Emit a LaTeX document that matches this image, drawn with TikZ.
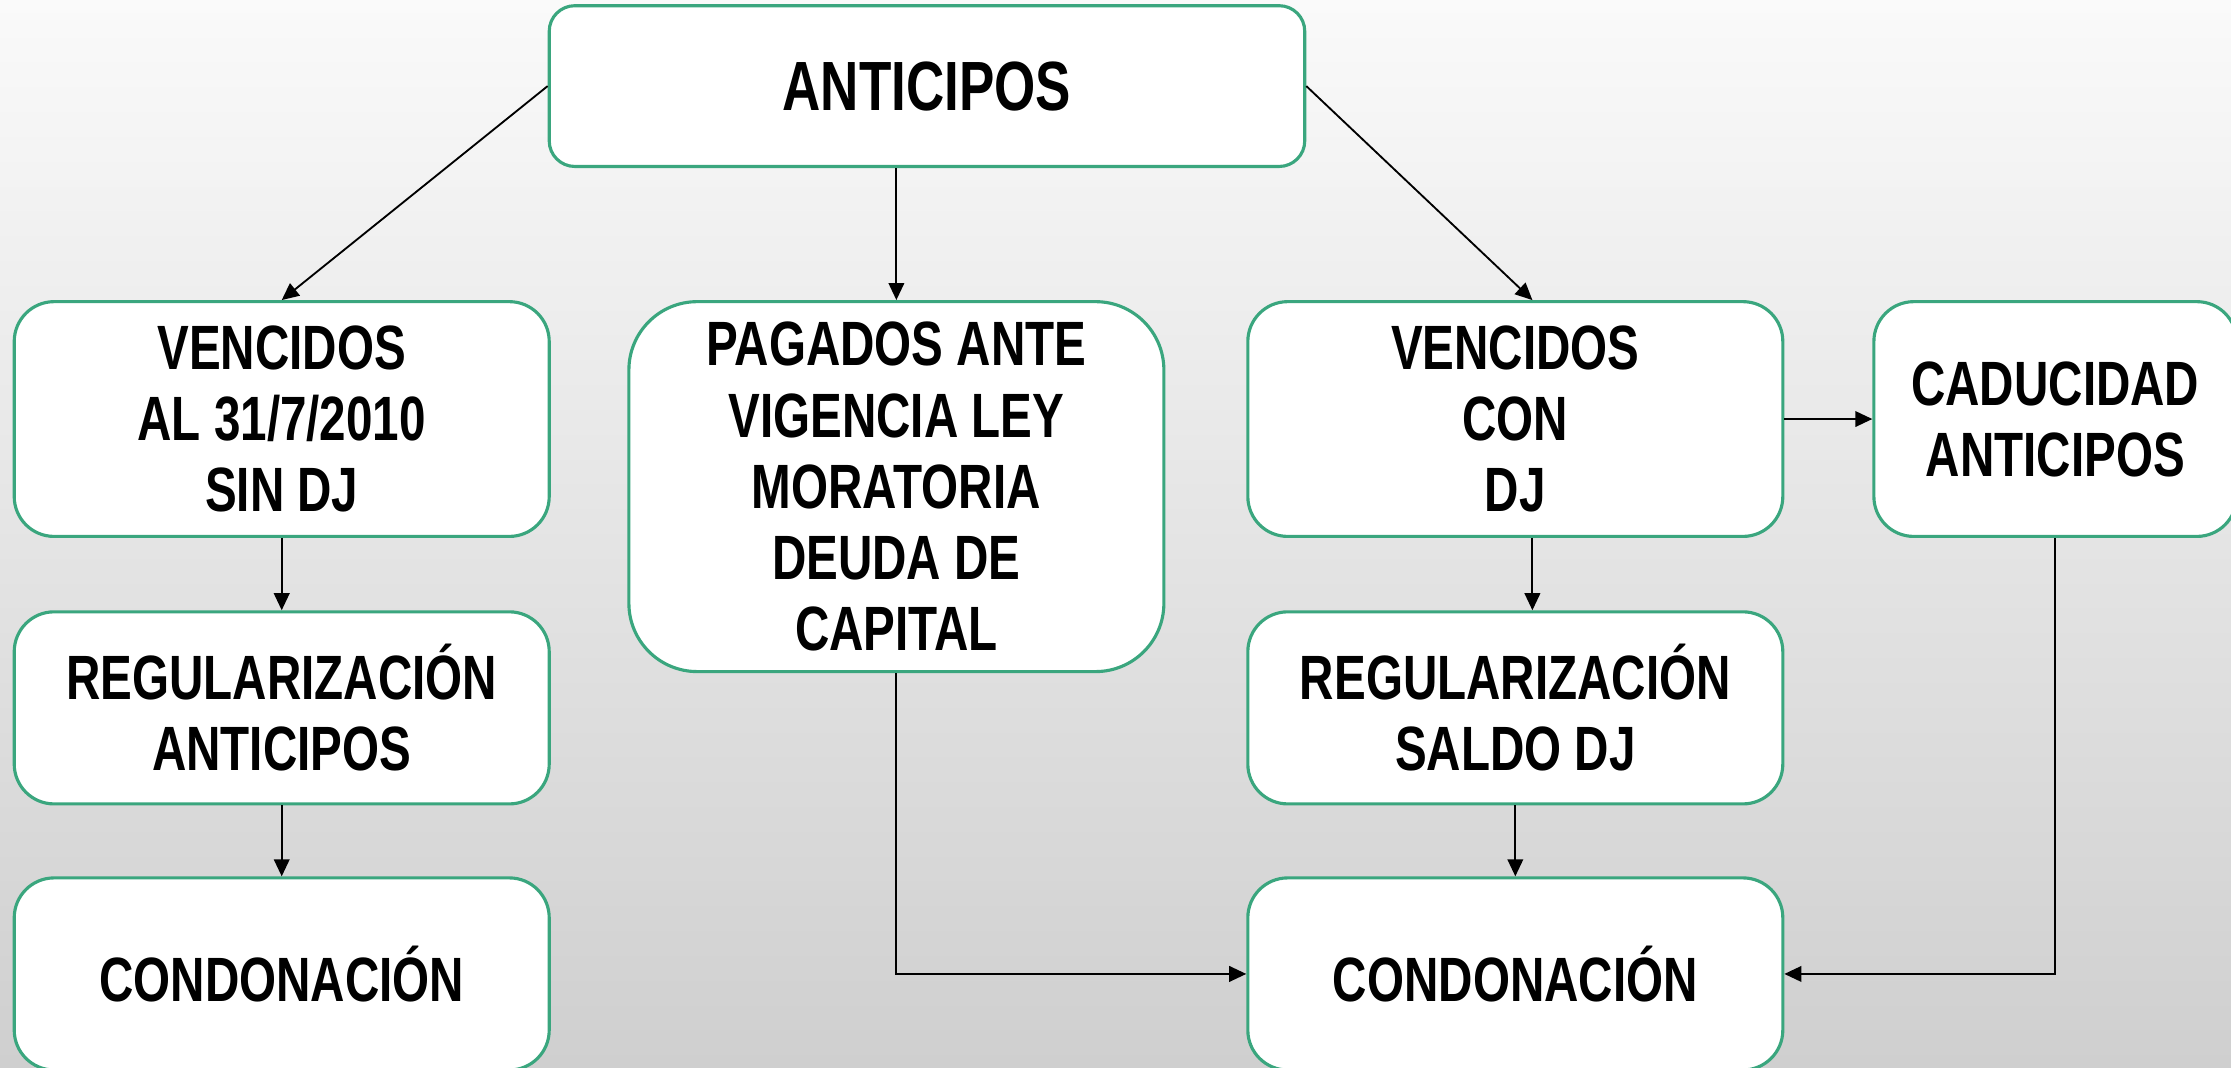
\documentclass[tikz,border=0pt]{standalone}
\usepackage{fontspec}
\setmainfont[FakeStretch=0.76]{Liberation Sans}
\usetikzlibrary{arrows.meta}
\definecolor{borde}{RGB}{58,166,126}

\begin{document}
\begin{tikzpicture}[x=1pt, y=1pt,
        box/.style={draw=borde, line width=1.1pt, fill=white, rounded corners=14pt, minimum width=188pt, minimum height=82.5pt, align=center, inner sep=0pt, font=\fontsize{22}{25}\selectfont\bfseries},
        >={Triangle[length=6pt, width=5.5pt]}]
        \useasboundingbox (0,0) rectangle (784,-375);
        \shade[top color={rgb,255:red,250;green,250;blue,250}, bottom color={rgb,255:red,207;green,207;blue,207}] (0,0) rectangle (784,-375);
        \node[box, rounded corners=9pt, minimum width=265.5pt, minimum height=56.5pt, font=\fontsize{24.5}{28}\selectfont\bfseries] (A) at (325.75,-30.25) {ANTICIPOS};
        \node[box] (V1) at (99,-147.25) {VENCIDOS\\AL 31/7/2010\\SIN DJ};
        \node[box, rounded corners=24pt, minimum height=130pt] (P) at (315,-171) {PAGADOS ANTE\\VIGENCIA LEY\\MORATORIA\\DEUDA DE\\CAPITAL};
        \node[box] (V2) at (532.5,-147.25) {VENCIDOS\\CON\\DJ};
        \node[box, minimum width=127.5pt, right of=V2, node distance=189.75pt] (K) {CADUCIDAD\\ANTICIPOS};
        \node[box, minimum height=67.5pt, below of=V1, node distance=101.5pt] (R1) {REGULARIZACIÓN\\ANTICIPOS};
        \node[box, minimum height=67.5pt, below of=R1, node distance=93.5pt] (C1) {CONDONACIÓN};
        \node[box, minimum height=67.5pt, below of=V2, node distance=101.5pt] (R2) {REGULARIZACIÓN\\SALDO DJ};
        \node[box, minimum height=67.5pt, below of=R2, node distance=93.5pt] (C2) {CONDONACIÓN};
        \draw[line width=0.65pt, ->] (A.west) -- (V1.north);
        \draw[line width=0.65pt, ->] (A.south -| P.north) -- (P.north);
        \draw[line width=0.65pt, ->] (A.east) -- ([xshift=6pt]V2.north);
        \draw[line width=0.65pt, ->] (V1) -- (R1);
        \draw[line width=0.65pt, ->] (R1) -- (C1);
        \draw[line width=0.65pt, ->] ([xshift=6pt]V2.south) -- ([xshift=6pt]R2.north);
        \draw[line width=0.65pt, ->] (R2) -- (C2);
        \draw[line width=0.65pt, ->] (V2) -- (K);
        \draw[line width=0.65pt, ->] (P.south) |- (C2.west);
        \draw[line width=0.65pt, ->] (K.south) |- (C2.east);
    \end{tikzpicture}
\end{document}
